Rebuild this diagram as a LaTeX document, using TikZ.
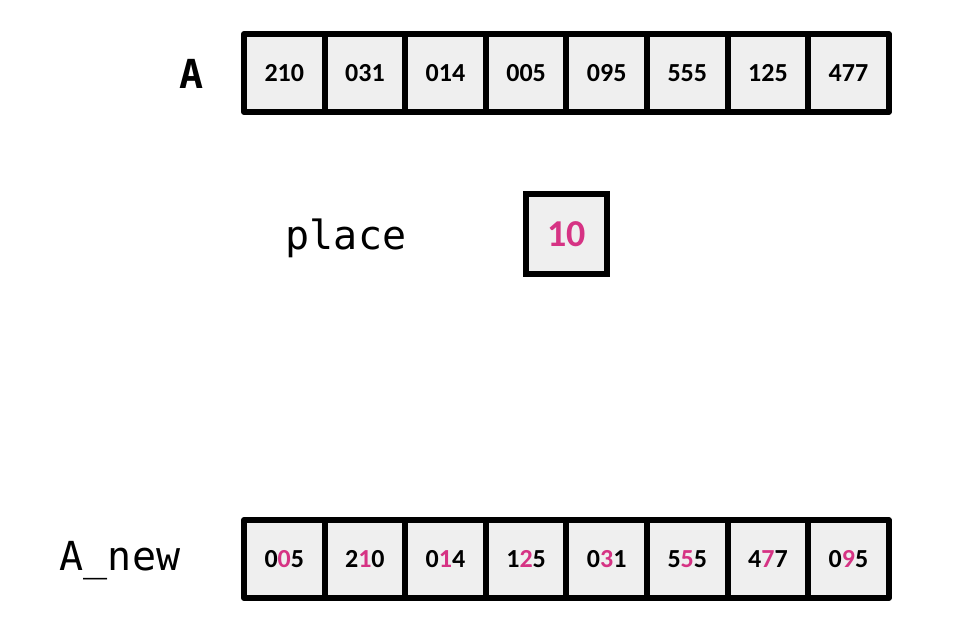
\documentclass[tikz,border=0pt]{standalone}
\usepackage{fontspec}
\setmainfont{Carlito}
\newfontfamily\labfont{DejaVu Sans Mono}
\definecolor{cellfill}{HTML}{EFEFEF}
\definecolor{pinkd}{HTML}{D63384}
\tikzset{
  cellbox/.style={draw=black, line width=6pt, fill=cellfill, minimum width=80.6pt, minimum height=78pt, inner sep=0pt, font=\fontsize{26}{26}\selectfont\bfseries, line join=round},
  placebox/.style={draw=black, line width=6pt, fill=cellfill, minimum width=81pt, minimum height=80pt, inner sep=0pt, font=\fontsize{38}{38}\selectfont\bfseries, text=pinkd},
  lab/.style={font=\labfont\fontsize{40}{40}\selectfont, inner sep=0pt}
}
\newcommand{\pk}[1]{\textcolor{pinkd}{#1}}
\begin{document}
\begin{tikzpicture}[x=1pt,y=-1pt]
\useasboundingbox (0,0) rectangle (957,637);
\foreach \v [count=\i from 0] in {210,031,014,005,095,555,125,477}{
  \node[cellbox] (a\i) at ({244+80.6*(\i+0.5)},73) {\v};
}
\foreach \v [count=\i from 0] in {0\pk{0}5,2\pk{1}0,0\pk{1}4,1\pk{2}5,0\pk{3}1,5\pk{5}5,4\pk{7}7,0\pk{9}5}{
  \node[cellbox] (b\i) at ({244+80.6*(\i+0.5)},559) {\v};
}
\node[placebox] (p) at (566.5,234) {10};
\node[lab, font=\labfont\bfseries\fontsize{40}{40}\selectfont] (la) at (192,74) {A};
\node[lab] (lp) at (346,238) {place};
\node[lab] (ln) at (120,561) {A\_new};
\end{tikzpicture}
\end{document}
